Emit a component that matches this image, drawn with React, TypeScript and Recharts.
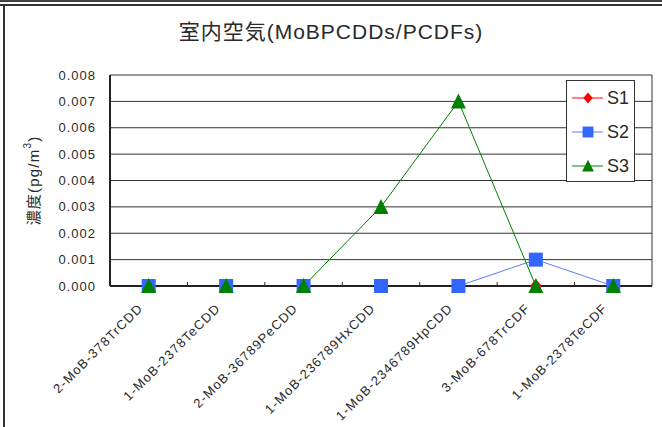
import React from 'react';
import { LineChart, Line, XAxis, YAxis, CartesianGrid, Legend } from 'recharts';

const categories = [
  '2-MoB-378TrCDD',
  '1-MoB-2378TeCDD',
  '2-MoB-36789PeCDD',
  '1-MoB-236789HxCDD',
  '1-MoB-2346789HpCDD',
  '3-MoB-678TrCDF',
  '1-MoB-2378TeCDF',
];
const s1Values = [0, 0, 0, 0, 0, 0, 0];
const s2Values = [0, 0, 0, 0, 0, 0.001, 0];
const s3Values = [0, 0, 0, 0.003, 0.007, 0, 0];
const yTicks = [0, 0.001, 0.002, 0.003, 0.004, 0.005, 0.006, 0.007, 0.008];
const seriesNames = ['S1', 'S2', 'S3'];
const titleText = '室内空気(MoBPCDDs/PCDFs)';

const data = categories.map((c, i) => ({
  name: c,
  S1: s1Values[i],
  S2: s2Values[i],
  S3: s3Values[i],
}));

const FONT = "'Liberation Sans', Arial, 'Noto Sans CJK JP', sans-serif";

const RED = '#FF0000';
const BLUE_MARK = '#3366FF';
const BLUE_LINE = '#5A7CFF';
const GREEN = '#008000';
const TEXT = '#2a2a2a';

const Diamond = ({ cx, cy, s = 1 }: any) => (
  <polygon
    points={`${cx},${cy - 7 * s} ${cx + 6 * s},${cy} ${cx},${cy + 7 * s} ${cx - 6 * s},${cy}`}
    fill={RED}
  />
);
const Square = ({ cx, cy, s = 1 }: any) => (
  <rect x={cx - 7 * s} y={cy - 7 * s} width={14 * s} height={14 * s} fill={BLUE_MARK} />
);
const Triangle = ({ cx, cy, s = 1 }: any) => (
  <polygon
    points={`${cx},${cy - 8 * s} ${cx + 7.5 * s},${cy + 7 * s} ${cx - 7.5 * s},${cy + 7 * s}`}
    fill={GREEN}
  />
);

const makeDot = (Shape: any) => (props: any) => {
  const { cx, cy, index } = props;
  if (cx == null || cy == null) return <g key={`d-${index}`} />;
  return (
    <g key={`d-${index}`}>
      <Shape cx={cx} cy={cy} />
    </g>
  );
};

const XTick = (props: any) => {
  const { x, y, payload, index, width, visibleTicksCount } = props;
  const n = visibleTicksCount || categories.length;
  const half = typeof width === 'number' ? width / n / 2 : 0;
  const axisY = y - 8;
  return (
    <g>
      {half > 0 && index < n - 1 ? (
        <line x1={x + half} x2={x + half} y1={axisY} y2={axisY - 4} stroke="#222" strokeWidth={1} />
      ) : null}
      <g transform={`translate(${x - 5},${y + 15})`}>
        <text
          x={0}
          y={0}
          textAnchor="end"
          transform="rotate(-45)"
          fontSize={13}
          letterSpacing={1.15}
          fill={TEXT}
          fontFamily={FONT}
        >
          {payload.value}
        </text>
      </g>
    </g>
  );
};

const YLabel = (props: any) => {
  const vb = props.viewBox || { x: 0, y: 0, width: 0, height: 0 };
  const cx = vb.x + 33;
  const cy = vb.y + vb.height / 2;
  return (
    <text
      x={cx}
      y={cy}
      transform={`rotate(-90, ${cx}, ${cy})`}
      textAnchor="middle"
      dominantBaseline="central"
      fontSize={15}
      letterSpacing={1.2}
      fill={TEXT}
      fontFamily={FONT}
    >
      濃度(pg/m<tspan dy={-6} fontSize={10}>3</tspan>
      <tspan dy={6}>)</tspan>
    </text>
  );
};

const legendItems = [
  { name: seriesNames[0], color: RED, Shape: Diamond },
  { name: seriesNames[1], color: BLUE_LINE, Shape: Square },
  { name: seriesNames[2], color: GREEN, Shape: Triangle },
];

const LegendBox = () => (
  <div
    style={{
      width: 67,
      height: 100,
      border: '1px solid #333',
      background: '#fff',
      boxSizing: 'content-box',
      fontFamily: FONT,
    }}
  >
    {legendItems.map((it) => (
      <div key={it.name} style={{ height: 34, display: 'flex', alignItems: 'center' }}>
        <svg width={40} height={20} style={{ display: 'block' }}>
          <line x1={5} y1={10} x2={36} y2={10} stroke={it.color} strokeWidth={1} />
          <it.Shape cx={21} cy={10} s={0.78} />
        </svg>
        <span style={{ fontSize: 18, color: TEXT, lineHeight: '20px' }}>{it.name}</span>
      </div>
    ))}
  </div>
);

export default function App() {
  return (
    <div
      style={{
        position: 'absolute',
        left: 0,
        top: 0,
        width: 662,
        height: 427,
        background: '#fff',
        overflow: 'hidden',
      }}
    >
      <div style={{ position: 'absolute', left: 0, top: 0, width: 662, height: 2, background: '#444' }} />
      <div style={{ position: 'absolute', left: 0, top: 4, width: 662, height: 2, background: '#333' }} />
      <div style={{ position: 'absolute', left: 3, top: 4, width: 2, height: 423, background: '#333' }} />
      <div
        style={{
          position: 'absolute',
          left: 0,
          top: 19,
          width: 662,
          textAlign: 'center',
          fontFamily: FONT,
          fontSize: 21,
          letterSpacing: 1,
          color: TEXT,
          lineHeight: '26px',
        }}
      >
        {titleText}
      </div>
      <LineChart
        width={662}
        height={427}
        data={data}
        margin={{ top: 75, right: 10, left: 0, bottom: 0 }}
        style={{ position: 'absolute', left: 0, top: 0 }}
      >
        <CartesianGrid
          stroke="#333"
          strokeWidth={1}
          verticalCoordinatesGenerator={({ offset }: any) => [offset.left + offset.width]}
        />
        <XAxis
          dataKey="name"
          scale="band"
          interval={0}
          height={141}
          tickLine={false}
          axisLine={{ stroke: '#222', strokeWidth: 2 }}
          tick={<XTick />}
        />
        <YAxis
          width={110}
          domain={[0, 0.008]}
          ticks={yTicks}
          tickFormatter={(v: number) => v.toFixed(3)}
          tickLine={false}
          tickMargin={8}
          axisLine={{ stroke: '#222', strokeWidth: 2 }}
          tick={{ fontSize: 13, fill: TEXT, fontFamily: FONT, letterSpacing: 1 }}
          label={<YLabel />}
        />
        <Legend
          layout="horizontal"
          verticalAlign="middle"
          align="center"
          content={() => <LegendBox />}
          wrapperStyle={{ position: 'absolute', left: 566, top: 80, width: 69, height: 102 }}
        />
        <Line
          type="linear"
          dataKey="S1"
          stroke={RED}
          strokeWidth={1}
          dot={makeDot(Diamond)}
          activeDot={false}
          isAnimationActive={false}
        />
        <Line
          type="linear"
          dataKey="S2"
          stroke={BLUE_LINE}
          strokeWidth={1}
          dot={makeDot(Square)}
          activeDot={false}
          isAnimationActive={false}
        />
        <Line
          type="linear"
          dataKey="S3"
          stroke={GREEN}
          strokeWidth={1}
          dot={makeDot(Triangle)}
          activeDot={false}
          isAnimationActive={false}
        />
      </LineChart>
    </div>
  );
}
